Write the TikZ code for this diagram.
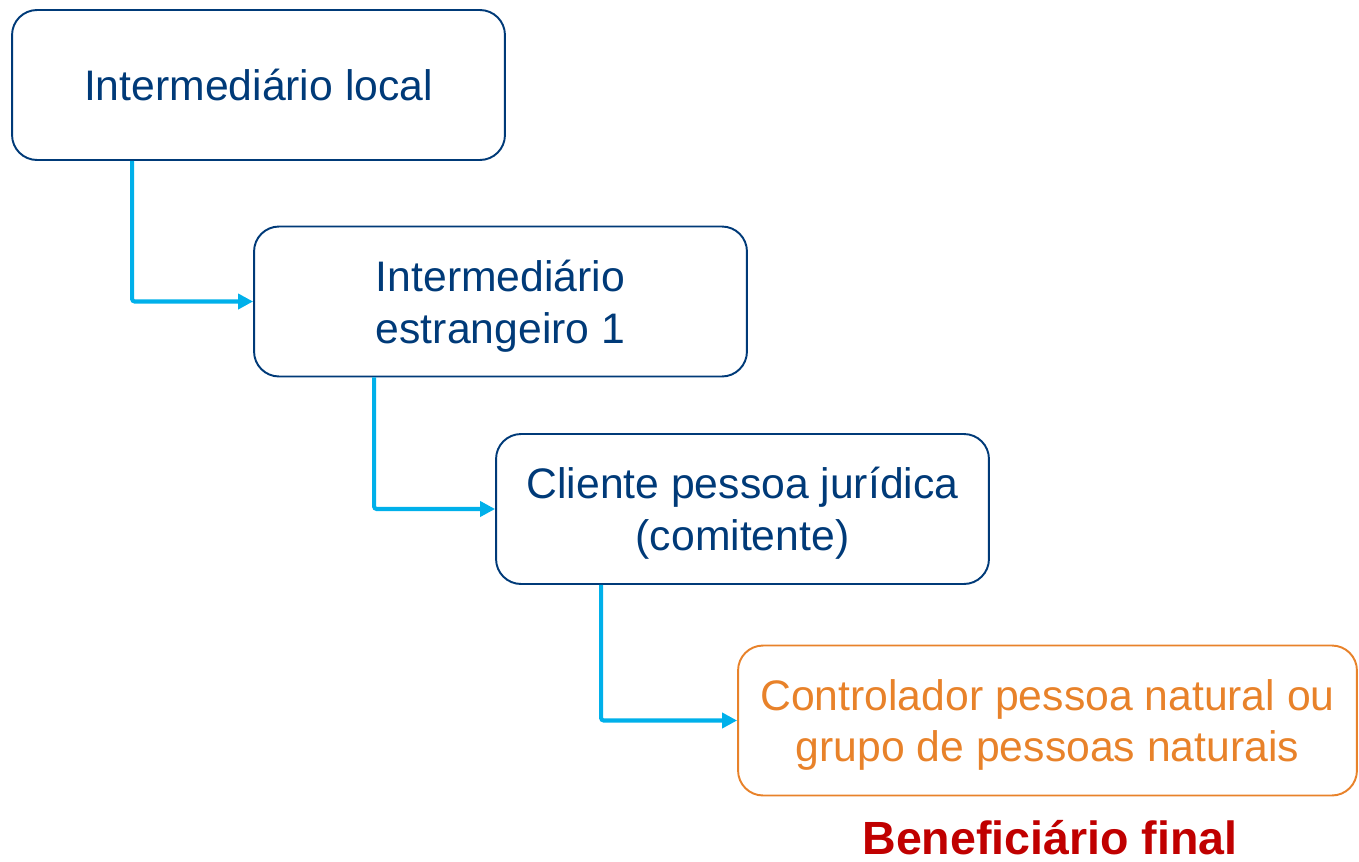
\documentclass[tikz,border=0pt]{standalone}
\usepackage{fontspec}
\setmainfont{Liberation Sans}
\usetikzlibrary{arrows.meta}

\definecolor{navy}{HTML}{003A78}
\definecolor{cyanline}{HTML}{00B0EA}
\definecolor{orangebox}{HTML}{E8822A}
\definecolor{darkred}{HTML}{C00000}

\begin{document}
\begin{tikzpicture}[x=0.02cm, y=-0.02cm,
    box/.style = {draw=navy, line width=1.1pt, rounded corners=0.5cm, text=navy,
        minimum width=9.86cm, minimum height=3cm, align=center, text depth=0pt,
        font=\fontsize{24.3}{29.5}\selectfont},
    endbox/.style = {box, draw=orangebox, text=orangebox, minimum width=12.38cm},
    link/.style = {cyanline, line width=2.3pt, rounded corners=1.5pt,
        -{Triangle[length=0.3cm, width=0.3cm]}}]
    \useasboundingbox (0, 0) rectangle (1359, 862);

    \node[box] (B1) at (258.5, 85) {Intermedi\'ario local};
    \node[box] (B2) at (500.5, 301.5) {Intermedi\'ario\\estrangeiro 1};
    \node[box] (B3) at (742.5, 509) {Cliente pessoa jur\'idica\\(comitente)};
    \node[endbox] (B4) at (1047.5, 720.5) {Controlador pessoa natural ou\\grupo de pessoas naturais};

    \draw[link] ([xshift=2.42cm]B1.south west) |- (B2.west);
    \draw[link] ([xshift=2.42cm]B2.south west) |- (B3.west);
    \draw[link] ([xshift=2.12cm]B3.south west) |- (B4.west);

    \node[text=darkred, font=\bfseries\fontsize{26.5}{32}\selectfont, anchor=base, inner sep=0pt] (BF) at (1050, 854) {Benefici\'ario final};
\end{tikzpicture}
\end{document}
